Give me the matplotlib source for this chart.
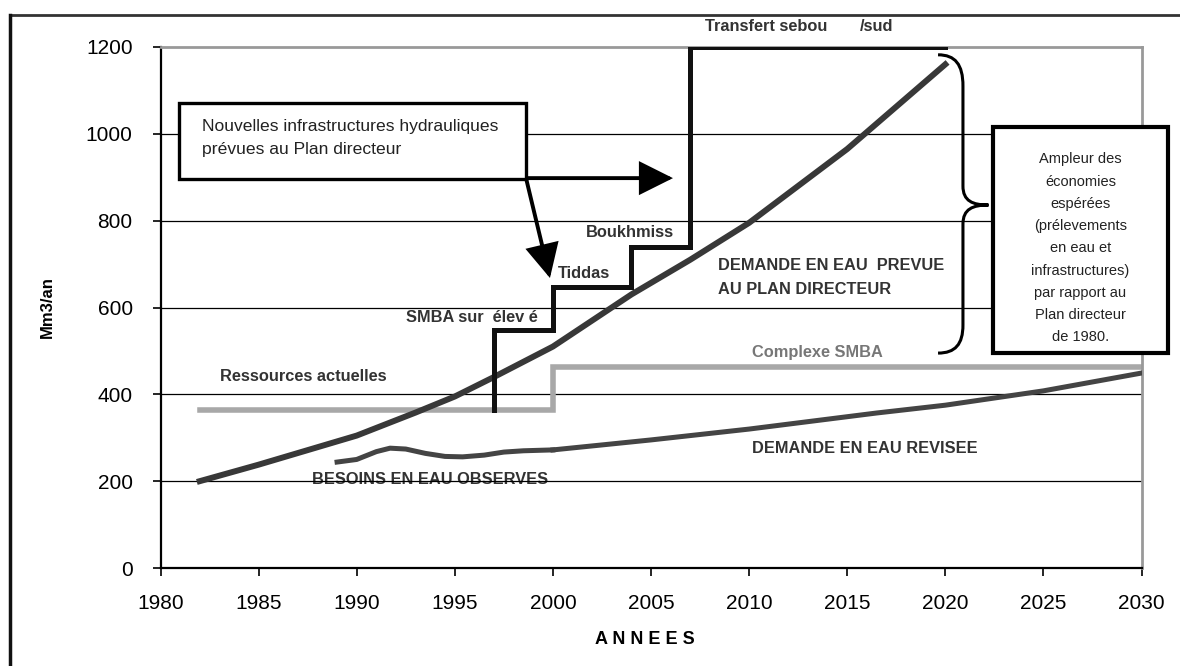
import matplotlib.pyplot as plt
from matplotlib.lines import Line2D
from matplotlib.patches import FancyArrowPatch, Rectangle, PathPatch
from matplotlib.path import Path

# Data
years_pd = [1982, 1985, 1990, 1993, 1995, 1997, 2000, 2004, 2007, 2010, 2015, 2020]
demande_pd = [200, 238, 305, 358, 395, 440, 510, 630, 710, 795, 965, 1160]

years_obs = [1989.0, 1990, 1991, 1991.7, 1992.5, 1993.5, 1994.5, 1995.4, 1996.5, 1997.5, 1998.5, 2000]
besoins_obs = [244, 250, 268, 276, 274, 264, 257, 256, 260, 267, 270, 272]

years_rev = [2000, 2002.4, 2005, 2010, 2016.5, 2020, 2025, 2030]
demande_rev = [272, 283, 295, 320, 357, 375, 408, 449]

years_res = [1982, 2000, 2000, 2030]
ressources = [364, 364, 462, 462]

years_infra = [1997, 1997, 2000, 2000, 2004, 2004, 2007, 2007, 2020]
infra = [364, 548, 548, 647, 647, 740, 740, 1200, 1200]

xticks = list(range(1980, 2031, 5))
yticks = list(range(0, 1201, 200))

plt.rcParams['font.family'] = ['Liberation Sans', 'DejaVu Sans']

fig = plt.figure(figsize=(11.8, 6.66), dpi=100)
ax = fig.add_axes([160.5 / 1180, 1 - 568 / 666, 981 / 1180, 521 / 666])

# outer frame (top and left only visible)
fig.add_artist(Line2D([10 / 1180, 1], [1 - 15 / 666, 1 - 15 / 666], color='#333333', lw=2))
fig.add_artist(Line2D([10 / 1180, 10 / 1180], [0, 1 - 15 / 666], color='#111111', lw=2.5))

for y in yticks[1:-1]:
    ax.axhline(y, color='black', lw=0.9, zorder=1)

ax.plot(years_res, ressources, color='#a8a8a8', lw=4, solid_joinstyle='miter', zorder=2)
ax.plot(years_pd, demande_pd, color='#383838', lw=4.3, zorder=3)
ax.plot(years_obs, besoins_obs, color='#444444', lw=3.6, zorder=3)
ax.plot(years_rev, demande_rev, color='#444444', lw=3.6, zorder=3)
ax.plot(years_infra, infra, color='#111111', lw=3.6, solid_joinstyle='miter', zorder=4)

ax.set_xlim(1980, 2030)
ax.set_ylim(0, 1200)
ax.set_xticks(xticks)
ax.set_yticks(yticks)
ax.tick_params(labelsize=15, length=6, width=1.2, direction='out', color='black')
ax.tick_params(axis='x', pad=13)
ax.tick_params(axis='y', pad=14)
for s in ['top', 'right']:
    ax.spines[s].set_color('#999999')
    ax.spines[s].set_linewidth(2)
for s in ['left', 'bottom']:
    ax.spines[s].set_color('black')
    ax.spines[s].set_linewidth(1.6)

ax.set_ylabel('Mm3/an', fontsize=12, fontweight='bold', labelpad=22)
fig.text(645 / 1180, 1 - 640 / 666, 'A N N E E S', ha='center', va='center',
         fontsize=13, fontweight='bold')

# labels
bold = dict(fontsize=11.8, fontweight='bold', color='#333333', va='center', ha='left')
ax.text(2007.76, 1248, 'Transfert sebou', clip_on=False, **bold)
ax.text(2015.66, 1248, '/sud', clip_on=False, **bold)
ax.text(2001.69, 772, 'Boukhmiss', **bold)
ax.text(2000.26, 679, 'Tiddas', **bold)
ax.text(1992.51, 576, 'SMBA sur  élev é', **bold)
ax.text(1983.03, 440, 'Ressources actuelles', **bold)
ax.text(2008.4, 669, 'DEMANDE EN EAU  PREVUE\nAU PLAN DIRECTEUR', linespacing=1.7, **bold)
ax.text(2010.15, 497, 'Complexe SMBA', fontsize=11.8, fontweight='bold', color='#777777',
        va='center', ha='left')
ax.text(2010.15, 276, 'DEMANDE EN EAU REVISEE', **bold)
ax.text(1987.72, 203, 'BESOINS EN EAU OBSERVES', zorder=0, **bold)

# box with arrows
ax.add_patch(Rectangle((1980.94, 896), 17.69, 175, fc='white', ec='black', lw=2.4, zorder=6))
ax.text(1982.1, 991, 'Nouvelles infrastructures hydrauliques\nprévues au Plan directeur',
        ha='left', va='center', fontsize=12.6, color='#222222', linespacing=1.7, zorder=7)
arrow_kw = dict(arrowstyle='-|>,head_length=2.0,head_width=1.0', mutation_scale=10,
                color='black', lw=2.8, shrinkA=0, shrinkB=0, joinstyle='miter', zorder=5)
ax.add_patch(FancyArrowPatch((1998.63, 898), (2006.12, 898), **arrow_kw))
ax.add_patch(FancyArrowPatch((1998.63, 898), (1999.85, 668), **arrow_kw))

# curly brace
verts = [(2019.63, 1182),
         (2020.5, 1182), (2020.9, 1160), (2020.9, 1110),
         (2020.9, 880),
         (2020.9, 845), (2021.4, 836), (2022.2, 836),
         (2021.4, 836), (2020.9, 827), (2020.9, 792),
         (2020.9, 560),
         (2020.9, 515), (2020.5, 495), (2019.63, 495)]
codes = ([Path.MOVETO] + [Path.CURVE4] * 3 + [Path.LINETO] + [Path.CURVE4] * 6
         + [Path.LINETO] + [Path.CURVE4] * 3)
ax.add_patch(PathPatch(Path(verts, codes), fc='none', ec='black', lw=2.2, zorder=5))

# right box
ax.add_patch(Rectangle((2022.43, 495), 8.92, 521, fc='white', ec='black', lw=3,
                       clip_on=False, zorder=6))
ax.text(2026.89, 736, 'Ampleur des\néconomies\nespérées\n(prélevements\nen eau et\n'
        'infrastructures)\npar rapport au\nPlan directeur\nde 1980.',
        ha='center', va='center', fontsize=10.5, color='#222222', linespacing=1.75, zorder=7)

fig.savefig('out.png', dpi=100)
